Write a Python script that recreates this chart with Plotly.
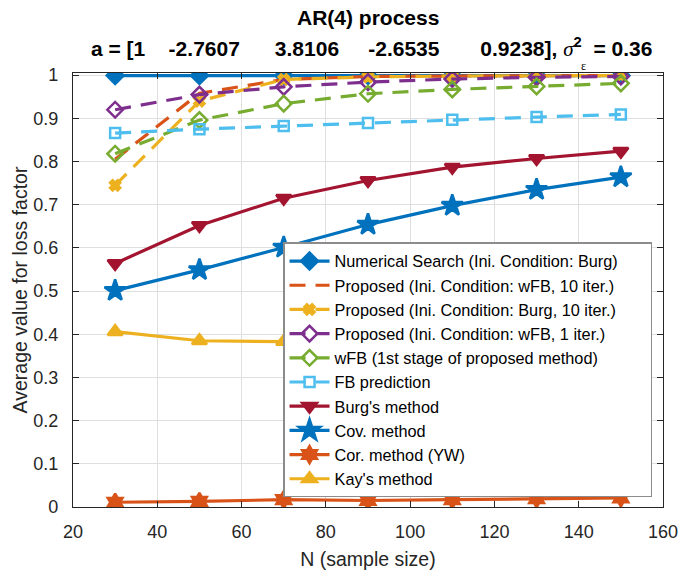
import plotly.graph_objects as go

N = [30, 50, 70, 90, 110, 130, 150]

numerical_search = [0.999, 0.999, 0.999, 0.999, 0.999, 0.999, 0.999]
prop_wfb_10 = [0.805, 0.958, 0.990, 0.997, 0.998, 0.999, 0.999]
prop_burg_10 = [0.745, 0.940, 0.990, 0.996, 0.998, 0.999, 0.999]
prop_wfb_1 = [0.920, 0.955, 0.973, 0.984, 0.991, 0.995, 0.997]
wfb = [0.818, 0.896, 0.934, 0.957, 0.967, 0.974, 0.981]
fb_pred = [0.866, 0.875, 0.882, 0.889, 0.897, 0.903, 0.909]
burg = [0.564, 0.652, 0.715, 0.756, 0.787, 0.807, 0.824]
cov = [0.501, 0.549, 0.601, 0.654, 0.698, 0.735, 0.764]
cor = [0.011, 0.013, 0.017, 0.015, 0.017, 0.019, 0.021]
kay = [0.406, 0.385, 0.383, 0.380, 0.378, 0.376, 0.375]

names = [
    "Numerical Search (Ini. Condition: Burg)" + "\u00a0" * 6,
    "Proposed (Ini. Condition: wFB, 10 iter.)",
    "Proposed (Ini. Condition: Burg, 10 iter.)",
    "Proposed (Ini. Condition: wFB, 1 iter.)",
    "wFB (1st stage of proposed method)",
    "FB prediction",
    "Burg's method",
    "Cov. method",
    "Cor. method (YW)",
    "Kay's method",
]

BLUE = "#0072BD"
ORANGE = "#D95319"
YELLOW = "#EDB120"
PURPLE = "#7E2F8E"
GREEN = "#77AC30"
LBLUE = "#4DBEEE"
RED = "#A2142F"

DASH = "16px,10px"
series = [
    (numerical_search, BLUE, "solid", "diamond", 13),
    (prop_wfb_10, ORANGE, DASH, None, 0),
    (prop_burg_10, YELLOW, DASH, "x", 9),
    (prop_wfb_1, PURPLE, DASH, "diamond-open", 12),
    (wfb, GREEN, DASH, "diamond-open", 12),
    (fb_pred, LBLUE, DASH, "square-open", 10),
    (burg, RED, "solid", "triangle-down", 13),
    (cov, BLUE, "solid", "star", 16),
    (cor, ORANGE, "solid", "hexagram", 13),
    (kay, YELLOW, "solid", "triangle-up", 13),
]

fig = go.Figure()
for i, (vals, col, dash, sym, size) in enumerate(series):
    kw = {}
    if sym is None:
        mode = "lines"
    else:
        mode = "lines+markers"
        kw["marker"] = dict(symbol=sym, size=size, color=col,
                            line=dict(color=col, width=2.5))
    fig.add_trace(go.Scatter(x=N, y=vals, name=names[i], mode=mode,
                             line=dict(color=col, width=3.2, dash=dash), **kw))

font = "Liberation Sans, Arial, Helvetica, sans-serif"


def nb(n):
    return "\u00a0" * n


subtitle = ("<b>a = [1" + nb(4) + "-2.7607" + nb(6) + "3.8106" + nb(5) + "-2.6535" + nb(7) +
            "0.9238]," + nb(1) + "</b><span style='font-family:Liberation Serif,serif'><i>σ</i></span>"
            "<sup><b>2</b></sup><b>" + nb(2) + "= 0.36</b>")

fig.update_layout(
    width=694, height=571,
    margin=dict(l=73, r=31, t=73, b=64, autoexpand=False),
    paper_bgcolor="white", plot_bgcolor="white",
    font=dict(family=font, size=18, color="#262626"),
    showlegend=True,
    legend=dict(x=0.356, y=0.022, xanchor="left", yanchor="bottom",
                bgcolor="white", bordercolor="#8c8c8c", borderwidth=1.5,
                font=dict(size=16.3, color="#000000"), tracegroupgap=0,
                itemwidth=40),
)
fig.add_annotation(text="<b>AR(4) process</b>", xref="paper", yref="paper",
                   x=0.5, y=1.0, yshift=56, showarrow=False, yanchor="middle",
                   font=dict(size=21, color="black"))
fig.add_annotation(text=subtitle, xref="paper", yref="paper",
                   x=(89 - 73) / 590, y=1.0, yshift=26, showarrow=False,
                   xanchor="left", yanchor="middle",
                   font=dict(size=21, color="black"))
fig.add_annotation(text="<span style='font-family:Liberation Serif,serif'>ε</span>",
                   xref="paper", yref="paper",
                   x=(583 - 73) / 590, y=1.0, yshift=7, showarrow=False,
                   xanchor="center", yanchor="middle",
                   font=dict(size=12, color="black"))

fig.update_xaxes(range=[20, 160], tickvals=[20, 40, 60, 80, 100, 120, 140, 160],
                 showgrid=True, gridcolor="#dfdfdf", gridwidth=1,
                 showline=True, linecolor="#262626", linewidth=1.2, mirror="ticks",
                 ticks="inside", ticklen=6, tickcolor="#262626", zeroline=False,
                 ticklabelstandoff=8, automargin=False,
                 title=dict(text="N (sample size)", font=dict(size=19.5), standoff=11))
fig.update_yaxes(range=[0, 1.005], tickvals=[0, 0.1, 0.2, 0.3, 0.4, 0.5, 0.6, 0.7, 0.8, 0.9, 1],
                 ticktext=["0", "0.1", "0.2", "0.3", "0.4", "0.5", "0.6", "0.7", "0.8", "0.9", "1"],
                 showgrid=True, gridcolor="#dfdfdf", gridwidth=1,
                 showline=True, linecolor="#262626", linewidth=1.2, mirror="ticks",
                 ticks="inside", ticklen=6, tickcolor="#262626", zeroline=False,
                 ticklabelstandoff=10, automargin=False,
                 title=dict(text="Average value for loss factor", font=dict(size=19.5), standoff=0))

fig.write_html("out.html")
